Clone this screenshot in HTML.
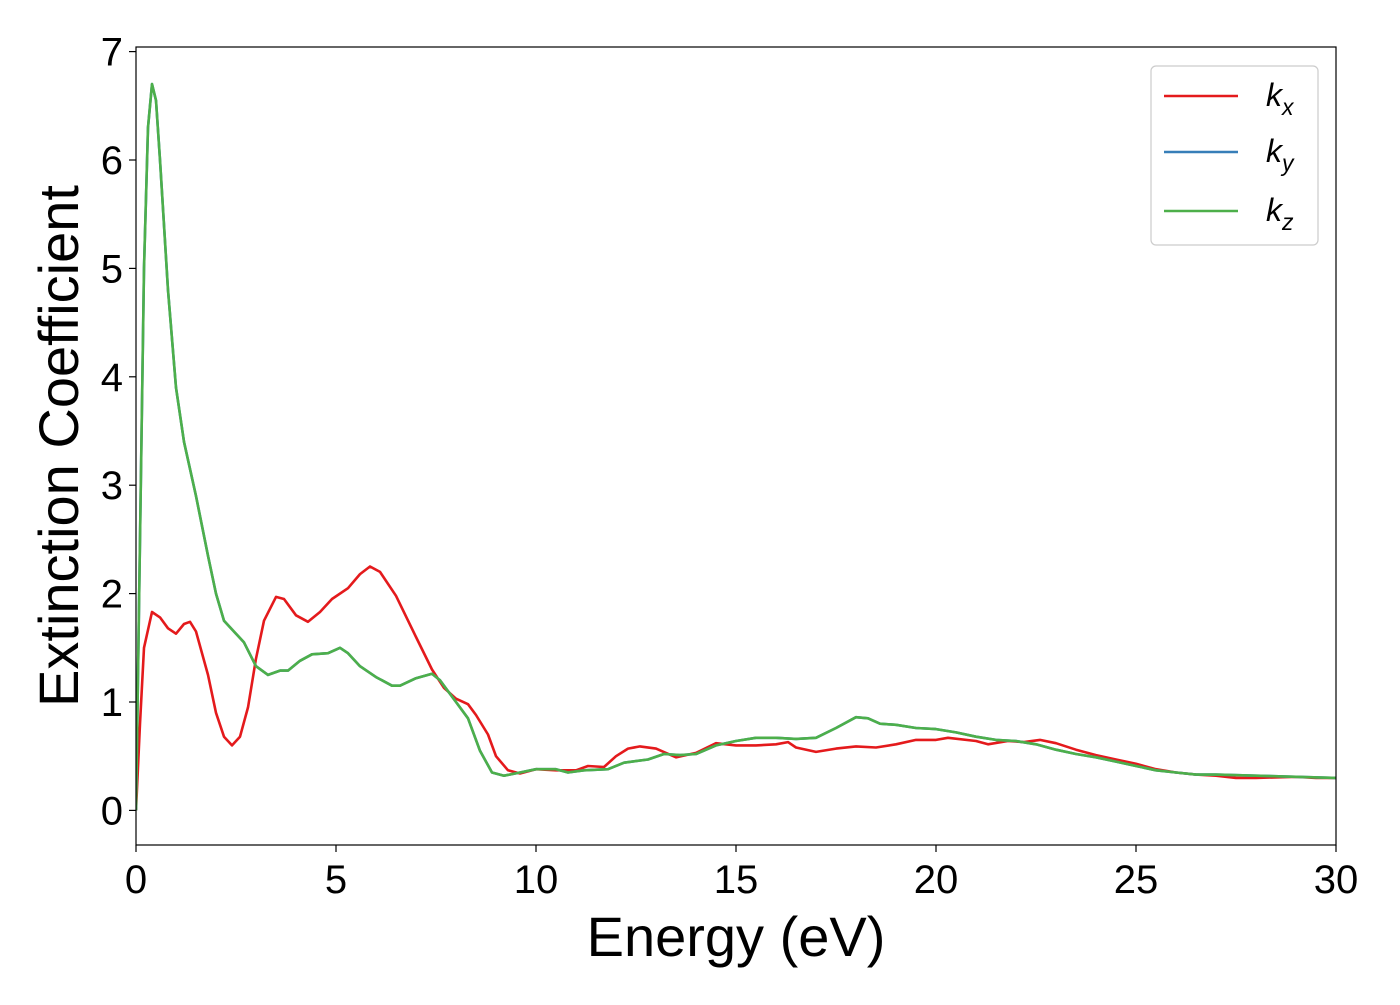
<!DOCTYPE html>
<html><head><meta charset="utf-8"><style>
body{margin:0;background:#fff}
svg text{font-family:"Liberation Sans","DejaVu Sans",sans-serif;fill:#000}
</style></head><body>
<svg id="chart" width="1400" height="1000" xmlns="http://www.w3.org/2000/svg">
<g id="plot"></g>
</svg>
<script>
const xTicks=[0,5,10,15,20,25,30];
const yTicks=[0,1,2,3,4,5,6,7];
const kxE=[0,0.1,0.2,0.4,0.6,0.8,1.0,1.2,1.35,1.5,1.8,2.0,2.2,2.4,2.6,2.8,3.0,3.2,3.5,3.7,4.0,4.3,4.6,4.9,5.3,5.6,5.85,6.1,6.5,7.0,7.4,7.7,8.0,8.3,8.5,8.8,9.0,9.3,9.6,10,10.5,11,11.3,11.7,12,12.3,12.6,13,13.5,14,14.5,15,15.5,16,16.3,16.5,17,17.5,18,18.5,19,19.5,20,20.3,21,21.3,21.8,22.2,22.6,23,23.5,24,24.5,25,25.5,26,26.5,27,27.5,28,29,29.5,30];
const kxV=[0,0.8,1.5,1.83,1.78,1.68,1.63,1.72,1.74,1.65,1.25,0.9,0.68,0.6,0.68,0.95,1.4,1.75,1.97,1.95,1.8,1.74,1.83,1.95,2.05,2.18,2.25,2.2,1.98,1.6,1.3,1.13,1.03,0.98,0.88,0.7,0.5,0.37,0.34,0.38,0.37,0.37,0.41,0.4,0.5,0.57,0.59,0.57,0.49,0.53,0.62,0.6,0.6,0.61,0.63,0.58,0.54,0.57,0.59,0.58,0.61,0.65,0.65,0.67,0.64,0.61,0.64,0.63,0.65,0.62,0.56,0.51,0.47,0.43,0.38,0.35,0.33,0.32,0.3,0.3,0.31,0.3,0.3];
const kzE=[0,0.1,0.2,0.3,0.4,0.5,0.6,0.8,1.0,1.2,1.5,1.8,2.0,2.2,2.5,2.7,3.0,3.3,3.6,3.8,4.1,4.4,4.8,5.1,5.3,5.6,6.0,6.4,6.6,7.0,7.4,7.6,8.0,8.3,8.6,8.9,9.2,9.6,10,10.5,10.8,11.2,11.8,12.2,12.8,13.2,13.6,14,14.5,15,15.5,16,16.5,17,17.5,18,18.3,18.6,19,19.5,20,20.5,21,21.5,22,22.5,23,23.5,24,24.5,25,25.5,26,26.5,27,28,29,30];
const kzV=[0,2.5,5,6.3,6.7,6.55,6,4.8,3.9,3.4,2.9,2.35,2.0,1.75,1.63,1.55,1.33,1.25,1.29,1.29,1.38,1.44,1.45,1.5,1.45,1.33,1.23,1.15,1.15,1.22,1.26,1.2,1.0,0.85,0.55,0.35,0.32,0.35,0.38,0.38,0.35,0.37,0.38,0.44,0.47,0.52,0.51,0.52,0.6,0.64,0.67,0.67,0.66,0.67,0.76,0.86,0.85,0.8,0.79,0.76,0.75,0.72,0.68,0.65,0.64,0.61,0.56,0.52,0.49,0.45,0.41,0.37,0.35,0.33,0.33,0.32,0.31,0.3];
const kyE=kzE, kyV=kzV;
const NS="http://www.w3.org/2000/svg";
const X=v=>136+v*40, Y=v=>810.4-v*108.4;
const svg=document.getElementById('chart');
function mk(t,a,p){const e=document.createElementNS(NS,t);for(const k in a)e.setAttribute(k,a[k]);(p||svg).appendChild(e);return e;}
function line(E,V,c,name){const d=E.map((e,i)=>(i?'L':'M')+X(e).toFixed(1)+','+Y(V[i]).toFixed(1)).join('');
const p=mk('path',{d:d,fill:'none',stroke:c,'stroke-width':2.6,'stroke-linejoin':'round'});

}
mk('defs',{}).innerHTML='<clipPath id="cp"><rect x="136" y="47" width="1200" height="798"/></clipPath>';
const g=mk('g',{'clip-path':'url(#cp)'});
function lineG(E,V,c,name){const d=E.map((e,i)=>(i?'L':'M')+X(e).toFixed(1)+','+Y(V[i]).toFixed(1)).join('');
const p=mk('path',{d:d,fill:'none',stroke:c,'stroke-width':2.6,'stroke-linejoin':'round'},g);

}
lineG(kxE,kxV,'#e41a1c','kx-line');
lineG(kyE,kyV,'#377eb8','ky-line');
lineG(kzE,kzV,'#4daf4a','kz-line');
const fr=mk('rect',{x:136,y:47,width:1200,height:798,fill:'none',stroke:'#000','stroke-width':1.2});


xTicks.forEach(t=>{mk('line',{x1:X(t),x2:X(t),y1:845,y2:852,stroke:'#000','stroke-width':1.2});
const tx=mk('text',{x:X(t),y:893,'font-size':40,'text-anchor':'middle'});tx.textContent=t;

});
yTicks.forEach(t=>{mk('line',{x1:129,x2:136,y1:Y(t),y2:Y(t),stroke:'#000','stroke-width':1.2});
const tx=mk('text',{x:123,y:Y(t)+14,'font-size':40,'text-anchor':'end'});tx.textContent=t;

});
const xl=mk('text',{x:736,y:956,'font-size':56,'text-anchor':'middle'});xl.textContent='Energy (eV)';


const yl=mk('text',{x:0,y:0,'font-size':56,'text-anchor':'middle',transform:'translate(78,446) rotate(-90)'});yl.textContent='Extinction Coefficient';


const lg=mk('g',{});


mk('rect',{x:1151,y:66,width:167,height:179,rx:5,fill:'#fff',stroke:'#ccc','stroke-width':1.2},lg);
[['#e41a1c','x',96],['#377eb8','y',152],['#4daf4a','z',211]].forEach(([c,s,y])=>{
mk('line',{x1:1164,x2:1238,y1:y,y2:y,stroke:c,'stroke-width':2.6},lg);
const t=mk('text',{x:1266,y:y+10,'font-size':32,'font-style':'italic'},lg);
t.innerHTML='k<tspan font-size="23" dy="9">'+s+'</tspan>';

});
</script>
</body></html>
